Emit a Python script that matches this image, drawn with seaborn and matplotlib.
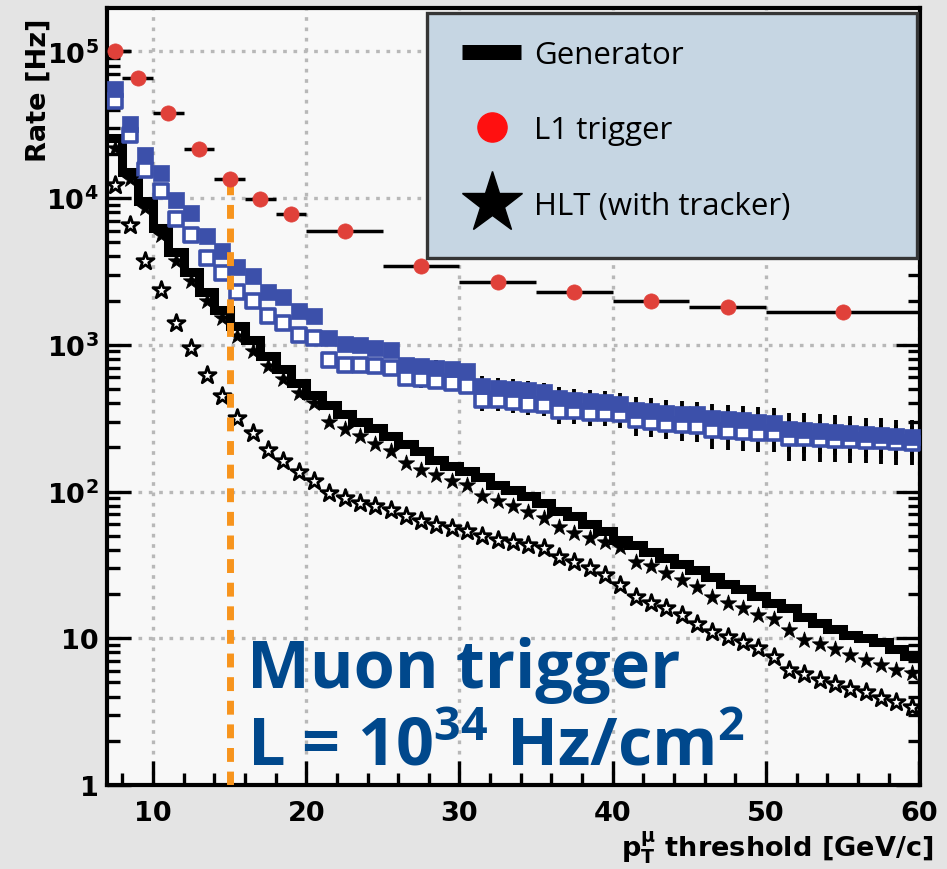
import numpy as np
import matplotlib
matplotlib.use("Agg")
import matplotlib.pyplot as plt
import seaborn as sns
from matplotlib.lines import Line2D
from matplotlib.patches import Rectangle
from matplotlib.ticker import FixedLocator, FixedFormatter, MultipleLocator, LogLocator, NullFormatter

# ---------------- data ----------------
pt_bins = np.arange(7.5, 60.0, 1.0)  # 1 GeV bin centres, 7.5 ... 59.5

generator = [25500, 15000, 9500, 6200, 4300, 3150, 2300, 1730, 1350, 1070,
             840, 680, 550, 455, 390, 340, 300, 270, 240, 210,
             188, 165, 150, 138, 126, 111, 103, 93, 84, 74,
             68, 60, 54, 47, 43, 39, 35, 32, 29, 26,
             23.5, 21.5, 19.5, 17.5, 16, 14, 12.7, 11.5, 10.5, 10,
             9.4, 8.5, 7.6]

blue_filled = [55700, 32000, 19500, 14700, 9700, 7850, 5500, 4380, 3400, 2950,
               2300, 2100, 1700, 1570, 1110, 1020, 1000, 955, 915, 730,
               715, 700, 680, 665, 525, 510, 500, 490, 475, 435,
               420, 415, 405, 395, 360, 355, 345, 340, 335, 315,
               310, 305, 300, 295, 265, 262, 258, 255, 250, 245,
               242, 238, 235]

blue_open = [46200, 26700, 15500, 11200, 7250, 5600, 3900, 3100, 2300, 2000,
             1580, 1400, 1165, 1110, 790, 725, 725, 715, 690, 595,
             580, 565, 550, 525, 420, 420, 405, 395, 390, 355,
             355, 345, 345, 335, 305, 300, 290, 285, 280, 262,
             258, 255, 252, 250, 232, 230, 228, 226, 224, 222,
             220, 218, 215]

blue_err_frac = [0.03] * 14 + [0.06] * 5 + [0.12] * 5 + [0.16] * 5 + \
                [0.19] * 5 + [0.22] * 5 + [0.26] * 5 + [0.30] * 9

hlt_filled = [22000, 13500, 8500, 5600, 3700, 2700, 2000, 1520, 1150, 910,
              720, 580, 470, 400, 300, 265, 240, 210, 190, 157,
              141, 130, 118, 110, 93, 86, 80, 72, 66, 57,
              52, 48, 45, 42, 33, 31, 28, 25, 22.5, 19,
              17.5, 16, 14.5, 13.5, 11.3, 9.8, 9.2, 8.4, 7.7, 7.1,
              6.6, 6.1, 5.8]

hlt_open = [12300, 6600, 3700, 2350, 1410, 950, 620, 445, 315, 250,
            192, 162, 135, 118, 98, 90, 83, 80, 75, 68,
            63, 59, 56, 54, 50, 47, 45, 43, 41, 36,
            33, 30, 27, 23, 19, 17.5, 16, 14.5, 12.5, 11,
            10.2, 9.4, 8.6, 7.4, 6.1, 5.7, 5.2, 4.9, 4.5, 4.3,
            3.9, 3.7, 3.4]

l1_x = [7.5, 9, 11, 13, 15, 17, 19, 22.5, 27.5, 32.5, 37.5, 42.5, 47.5, 55]
l1_xerr = [1, 1, 1, 1, 1, 1, 1, 2.5, 2.5, 2.5, 2.5, 2.5, 2.5, 5]
l1_rate = [100000, 66000, 37700, 21500, 13500, 9900, 7800, 6000, 3440, 2660,
           2290, 2000, 1800, 1660]

threshold_cut = 15
threshold_top = 13000

y_major = [1, 10, 1e2, 1e3, 1e4, 1e5]
y_major_labels = ['1', '10', r'$\mathregular{10^{2}}$', r'$\mathregular{10^{3}}$',
                  r'$\mathregular{10^{4}}$', r'$\mathregular{10^{5}}$']
x_major = [10, 20, 30, 40, 50, 60]

legend_labels = ['Generator', 'L1 trigger', 'HLT (with tracker)']

# ---------------- styling ----------------
sns.set_style("ticks")
plt.rcParams['font.family'] = ['DejaVu Sans']
plt.rcParams['text.color'] = 'black'
plt.rcParams['axes.labelcolor'] = 'black'
plt.rcParams['xtick.color'] = 'black'
plt.rcParams['ytick.color'] = 'black'

BLUE = '#3c50aa'
RED = '#e0413a'
ORANGE = '#f7941d'
TEXT_BLUE = '#00488c'

W, H = 947, 870
fig = plt.figure(figsize=(W / 100, H / 100), dpi=100, facecolor='#e4e4e4')
ax = fig.add_axes([107 / W, 1 - 786 / H, 813 / W, 777 / H])
ax.set_facecolor('#f8f8f8')
ax.set_yscale('log')
ax.set_xlim(7, 60.05)
ax.set_ylim(1, 10 ** 5.295)

# grid
ax.grid(True, which='major', color='#b8b8b8', linestyle=(0, (1.1, 2.0)), linewidth=2.4, zorder=0.5)
ax.set_axisbelow(True)

# generator (thick staircase)
edges = np.append(pt_bins - 0.5, pt_bins[-1] + 0.5)
ax.stairs(generator, edges, baseline=None, color='black', linewidth=6.5, zorder=2)

# blue error bars
bf = np.array(blue_filled)
bo = np.array(blue_open)
fr = np.array(blue_err_frac)
ax.errorbar(pt_bins, bf, yerr=bf * fr, fmt='none', ecolor='black', elinewidth=2.8, capsize=0, zorder=2.4)
ax.errorbar(pt_bins, bo, yerr=bo * fr, fmt='none', ecolor='black', elinewidth=2.8, capsize=0, zorder=2.4)

# blue squares
sns.scatterplot(x=pt_bins, y=blue_open, marker='s', s=110, color='white', edgecolor=BLUE,
                linewidth=2.6, zorder=3, ax=ax)
sns.scatterplot(x=pt_bins, y=blue_filled, marker='s', s=120, color=BLUE, edgecolor=BLUE,
                linewidth=0.5, zorder=3.2, ax=ax)

# HLT stars
sns.scatterplot(x=pt_bins, y=hlt_filled, marker='*', s=150, color='black', edgecolor='black',
                linewidth=0.6, zorder=3.5, ax=ax)
sns.scatterplot(x=pt_bins, y=hlt_open, marker='*', s=165, color='white', edgecolor='black',
                linewidth=2.0, zorder=3.5, ax=ax)

# threshold line
ax.vlines(threshold_cut, 1, threshold_top, colors=ORANGE, linewidth=5.0,
          linestyles=(0, (2.0, 1.4)), zorder=4.5)

# L1 trigger
ax.errorbar(l1_x, l1_rate, xerr=l1_xerr, fmt='none', ecolor='black', elinewidth=2.5, capsize=0, zorder=5)
sns.scatterplot(x=l1_x, y=l1_rate, marker='o', s=120, color=RED, edgecolor=RED, linewidth=0.5,
                zorder=6, ax=ax)

# axes / ticks
for s in ax.spines.values():
    s.set_linewidth(3)
    s.set_color('black')
    s.set_visible(True)
ax.xaxis.set_major_locator(FixedLocator(x_major))
ax.xaxis.set_minor_locator(MultipleLocator(2))
ax.yaxis.set_major_locator(FixedLocator(y_major))
ax.yaxis.set_major_formatter(FixedFormatter(y_major_labels))
ax.yaxis.set_minor_locator(LogLocator(base=10, subs=np.arange(2, 10)))
ax.yaxis.set_minor_formatter(NullFormatter())
ax.tick_params(which='major', direction='in', length=17, width=2.4, labelsize=19.5,
               right=True, top=False, pad=6, colors='black')
ax.tick_params(axis='x', which='major', pad=11)
ax.tick_params(which='minor', direction='in', length=9, width=2.4, right=True, top=False)
for lab in ax.get_xticklabels() + ax.get_yticklabels():
    lab.set_fontweight('bold')

ax.set_xlabel(r'$\mathregular{p_{T}^{\mu}}$ threshold [GeV/c]', fontsize=19.5, fontweight='bold',
              ha='right', va='top')
ax.xaxis.set_label_coords(1.016, -0.056)
ax.set_ylabel('Rate [Hz]', fontsize=19.5, fontweight='bold', ha='right', va='bottom')
ax.yaxis.set_label_coords(-0.068, 0.988)

# big annotation
ax.text(16.15, 4.62, 'Muon trigger', fontsize=48, fontweight='bold', color=TEXT_BLUE,
        family=['Open Sans', 'DejaVu Sans'], va='baseline', zorder=7)
ax.text(16.15, 1.38, r'L = $\mathregular{10^{34}}$ Hz/$\mathregular{cm^{2}}$', fontsize=48,
        fontweight='bold', color=TEXT_BLUE, family=['Open Sans', 'DejaVu Sans'], va='baseline', zorder=7)

# legend box
ax.add_patch(Rectangle((427 / W, 1 - 259 / H), 490 / W, 245 / H, transform=fig.transFigure,
                       facecolor='#c6d6e3', edgecolor='#353535', linewidth=2.4, zorder=10, clip_on=False))
handles = [Line2D([], [], color='black', linewidth=10.8, solid_capstyle='butt'),
           Line2D([], [], linestyle='none', marker='o', markersize=21, color='#ff1010'),
           Line2D([], [], linestyle='none', marker='*', markersize=46, color='black')]
leg = ax.legend(handles, legend_labels, loc='upper left', bbox_to_anchor=(462 / W, 1 - 41 / H),
                bbox_transform=fig.transFigure, frameon=False, borderpad=0, borderaxespad=0,
                handlelength=1.9, handletextpad=0.42, labelspacing=1.45,
                prop={'family': ['Open Sans', 'DejaVu Sans'], 'size': 22.5})
leg.set_zorder(11)

fig.savefig('out.png', dpi=100, facecolor=fig.get_facecolor())
